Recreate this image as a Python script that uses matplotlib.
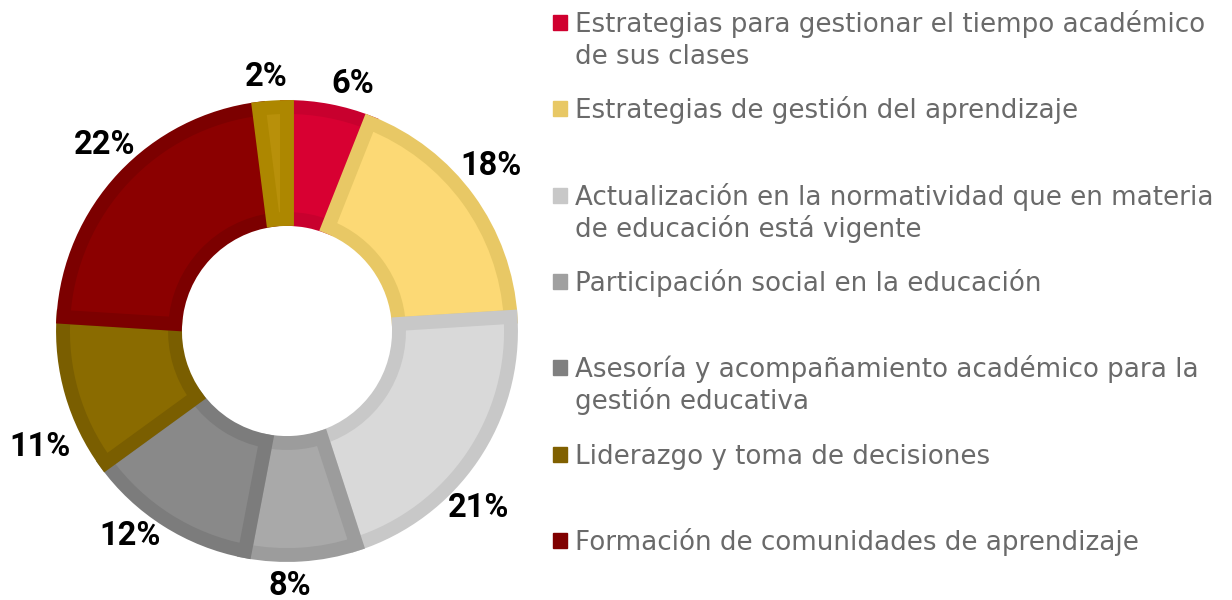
import numpy as np
import matplotlib.pyplot as plt
from matplotlib.patches import Rectangle

# datos del gráfico (sentido horario desde arriba)
valores = [6, 18, 21, 8, 12, 11, 22, 2]
rellenos = ['#d80032', '#fcd975', '#d9d9d9', '#a9a9a9', '#898989', '#8a6b00', '#8b0000', '#b8900a']
bordes = ['#c8002e', '#e8c865', '#c8c8c8', '#9c9c9c', '#7c7c7c', '#7a5e00', '#7c0000', '#ad8700']

etiquetas = ['Estrategias para gestionar el tiempo académico\nde sus clases',
             'Estrategias de gestión del aprendizaje',
             'Actualización en la normatividad que en materia\nde educación está vigente',
             'Participación social en la educación',
             'Asesoría y acompañamiento académico para la\ngestión educativa',
             'Liderazgo y toma de decisiones',
             'Formación de comunidades de aprendizaje']
colores_leyenda = ['#d0002f', '#e8c865', '#c8c8c8', '#a0a0a0', '#808080', '#806000', '#800000']

# pequeños ajustes de ángulo de las etiquetas (grados), solo de maquetación
ajuste_ang = [-4, 3, -8.5, -3, -5, 9, -2.4, 1]

W, H = 1232, 600
fig = plt.figure(figsize=(W / 100, H / 100), dpi=100)

# donut
cx, cy, r = 287, 331, 224
ax = fig.add_axes([(cx - r) / W, (H - cy - r) / H, 2 * r / W, 2 * r / H])
wedges, textos, pcts = ax.pie(valores, colors=rellenos, startangle=90, counterclock=False,
                              radius=1, wedgeprops=dict(width=0.5, linewidth=0),
                              autopct='%d%%', pctdistance=1.15,
                              textprops=dict(fontsize=23.5, fontweight='bold', color='black',
                                             family='Roboto'))
for w, b in zip(wedges, bordes):
    w.set_edgecolor(b)
    w.set_linewidth(10)
    w.set_clip_path(w)
ax.set_xlim(-1, 1)
ax.set_ylim(-1, 1)
ax.set_aspect('equal')
ax.axis('off')

# etiquetas por fuera, como "extremo externo" de Excel
rend = fig.canvas.get_renderer()
gap = 18
for w, t, da in zip(wedges, pcts, ajuste_ang):
    th = np.deg2rad((w.theta1 + w.theta2) / 2 + da)
    ux, uy = np.cos(th), np.sin(th)
    t.set_va('center')
    t.set_ha('center')
    bb = t.get_window_extent(rend)
    hw, hh = bb.width / 2, bb.height / 2 - 3
    ext = min(hw / max(abs(ux), 1e-6), hh / max(abs(uy), 1e-6))
    d = (r + gap + ext) / r
    t.set_position((d * ux, d * uy))

# leyenda manual
y0, paso, interlinea = 32, 86.3, 32
for i, (txt, col) in enumerate(zip(etiquetas, colores_leyenda)):
    yb = y0 + i * paso
    fig.patches.append(Rectangle((553 / W, 1 - (yb - 2) / H), 14 / W, 15 / H,
                                 transform=fig.transFigure, color=col))
    for j, linea in enumerate(txt.split('\n')):
        fig.text(575 / W, 1 - (yb + j * interlinea) / H, linea, fontsize=18.8,
                 color='#6a6a6a', family='DejaVu Sans', va='baseline', ha='left')

fig.savefig('out.png', dpi=100)
